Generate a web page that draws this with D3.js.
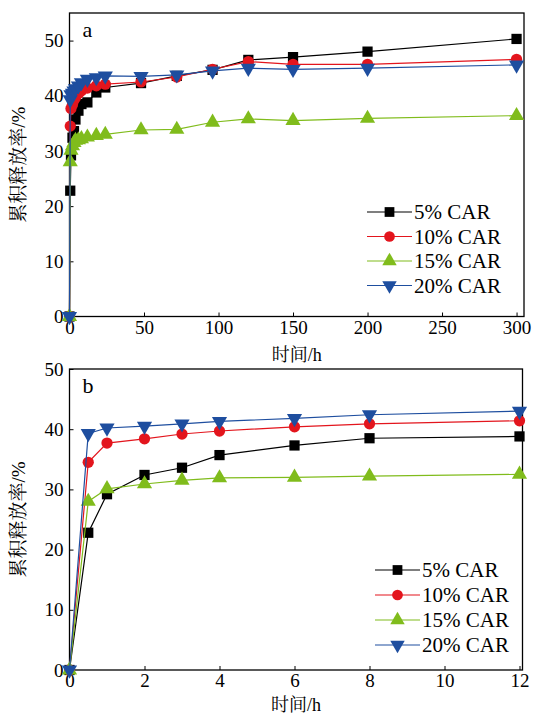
<!DOCTYPE html>
<html>
<head>
<meta charset="utf-8">
<script src="https://cdn.jsdelivr.net/npm/d3@7"></script>
<style>
  body { margin: 0; background: #fff; }
  svg { display: block; }
</style>
</head>
<body>
<svg id="chart" width="533" height="715"></svg>
<script>
// series
const seriesNames = ["5% CAR", "10% CAR", "15% CAR", "20% CAR"];
const seriesColors = ["#000000", "#e3151d", "#80bc1c", "#1e4e9f"];
const seriesShapes = ["square", "circle", "up", "down"];

// release time (h) and cumulative release (%)
const hours = [0, 0.5, 1, 2, 3, 4, 6, 8, 12, 18, 24, 48, 72, 96, 120, 150, 200, 300];
const car5  = [0, 22.8, 29.2, 32.4, 33.6, 35.7, 37.3, 38.5, 38.8, 40.6, 41.5, 42.3, 43.6, 44.7, 46.5, 47.0, 48.0, 50.3];
const car10 = [0, 34.5, 37.7, 38.4, 39.2, 39.7, 40.4, 40.9, 41.4, 41.8, 42.1, 42.5, 43.4, 44.8, 46.2, 45.7, 45.7, 46.6];
const car15 = [0, 28.0, 30.1, 30.9, 31.5, 31.9, 32.0, 32.2, 32.5, 32.8, 33.0, 33.8, 33.9, 35.2, 35.8, 35.5, 35.9, 36.4];
const car20 = [0, 39.3, 40.2, 40.5, 40.9, 41.3, 41.8, 42.4, 43.0, 43.3, 43.6, 43.5, 43.8, 44.5, 45.0, 44.8, 45.0, 45.6];

// tick labels
const xTicksA = [0, 50, 100, 150, 200, 250, 300];
const xTicksB = [0, 2, 4, 6, 8, 10, 12];
const yTicks = [0, 10, 20, 30, 40, 50];

// axis titles: [chinese part, latin part]
const xTitle = ["时间", "/h"];
const yTitle = ["累积释放率", "/%"];

const allSeries = [car5, car10, car15, car20];
const latin = "'Liberation Serif'";
const cjk = "'Noto Serif CJK SC'";

// make sure the local fonts are loaded before the screenshot
(function warmFonts() {
    let c = document.createElement("canvas").getContext("2d");
    [latin, cjk].forEach(function(f) {
        c.font = "20px " + f;
        c.measureText("5% CAR 时间累积释放率/h");
    });
})();

function markerPath(shape, size) {
    if (shape === "square") return d3.symbol(d3.symbolSquare, size)();
    if (shape === "circle") return d3.symbol(d3.symbolCircle, size * 0.95)();
    return d3.symbol(d3.symbolTriangle, size * 0.95)();
}

function drawMarker(g, shape, color, cx, cy, size) {
    g.append("path")
        .attr("d", markerPath(shape, size))
        .attr("fill", color)
        .attr("transform", "translate(" + cx + "," + cy + ")" + (shape === "down" ? " rotate(180)" : ""));
}

function mixedTitle(t, parts) {
    t.append("tspan").style("font-family", cjk).text(parts[0]);
    t.append("tspan").style("font-family", latin).text(parts[1]);
}

function drawPanel(svg, p) {
    let x = d3.scaleLinear().domain([0, p.xMax]).range([p.left, p.right]);
    let y = d3.scaleLinear().domain([0, p.yMax]).range([p.bottom, p.top]);

    let g = svg.append("g");

    // x axis
    let ax = g.append("g")
        .attr("transform", "translate(0," + p.bottom + ")")
        .call(d3.axisBottom(x).tickValues(p.xTicks).tickSizeInner(-4).tickSizeOuter(0).tickPadding(4));
    ax.select(".domain").remove();
    ax.attr("font-family", null);
    ax.selectAll("text").style("font-family", latin).attr("font-size", "19px").attr("fill", "#000");
    ax.selectAll("line").attr("stroke", "#000").attr("stroke-width", 1);

    // y axis
    let ay = g.append("g")
        .attr("transform", "translate(" + p.left + ",0)")
        .call(d3.axisLeft(y).tickValues(yTicks).tickSizeInner(-4).tickSizeOuter(0).tickPadding(6));
    ay.select(".domain").remove();
    ay.attr("font-family", null);
    ay.selectAll("text").style("font-family", latin).attr("font-size", "19px").attr("fill", "#000");
    ay.selectAll("line").attr("stroke", "#000").attr("stroke-width", 1);

    // frame
    g.append("rect")
        .attr("x", p.left).attr("y", p.top)
        .attr("width", p.right - p.left).attr("height", p.bottom - p.top)
        .attr("fill", "none").attr("stroke", "#000").attr("stroke-width", 1.3);

    // series
    allSeries.forEach(function(vals, i) {
        let pts = hours.map(function(h, j) { return [h, vals[j]]; })
            .filter(function(d) { return d[0] <= p.xMax; });
        let line = d3.line().x(function(d) { return x(d[0]); }).y(function(d) { return y(d[1]); });
        g.append("path")
            .attr("d", line(pts))
            .attr("fill", "none")
            .attr("stroke", seriesColors[i])
            .attr("stroke-width", 1.2);
        pts.forEach(function(d) {
            drawMarker(g, seriesShapes[i], seriesColors[i], x(d[0]), y(d[1]), 105);
        });
    });

    // legend
    seriesNames.forEach(function(name, i) {
        let ly = p.legendY + i * p.legendStep;
        g.append("line")
            .attr("x1", p.legendX).attr("x2", p.legendX + 45)
            .attr("y1", ly).attr("y2", ly)
            .attr("stroke", seriesColors[i]).attr("stroke-width", 1.2);
        drawMarker(g, seriesShapes[i], seriesColors[i], p.legendX + 22.5, ly, 95);
        g.append("text")
            .attr("x", p.legendX + 47).attr("y", ly + 7)
            .style("font-family", latin)
            .attr("font-size", "21px")
            .text(name);
    });

    // panel letter
    g.append("text")
        .attr("x", p.left + 13).attr("y", p.top + 24)
        .style("font-family", latin)
        .attr("font-size", "22px")
        .text(p.letter);

    // axis titles
    let xt = g.append("text")
        .attr("x", (p.left + p.right) / 2).attr("y", p.xTitleY)
        .attr("text-anchor", "middle")
        .attr("font-size", "18px");
    mixedTitle(xt, xTitle);
    let cy = (p.top + p.bottom) / 2;
    let yt = g.append("text")
        .attr("transform", "translate(25," + cy + ") rotate(-90)")
        .attr("text-anchor", "middle")
        .attr("font-size", "19px");
    mixedTitle(yt, yTitle);
}

let svg = d3.select("#chart");

drawPanel(svg, {
    left: 69.5, right: 524, top: 13, bottom: 316.5,
    xMax: 305, yMax: 55, xTicks: xTicksA,
    letter: "a", legendX: 367, legendY: 212, legendStep: 24.5,
    xTitleY: 361
});

drawPanel(svg, {
    left: 69.5, right: 522.5, top: 369, bottom: 670,
    xMax: 12.08, yMax: 50, xTicks: xTicksB,
    letter: "b", legendX: 375, legendY: 570, legendStep: 25,
    xTitleY: 711
});
</script>
</body>
</html>
